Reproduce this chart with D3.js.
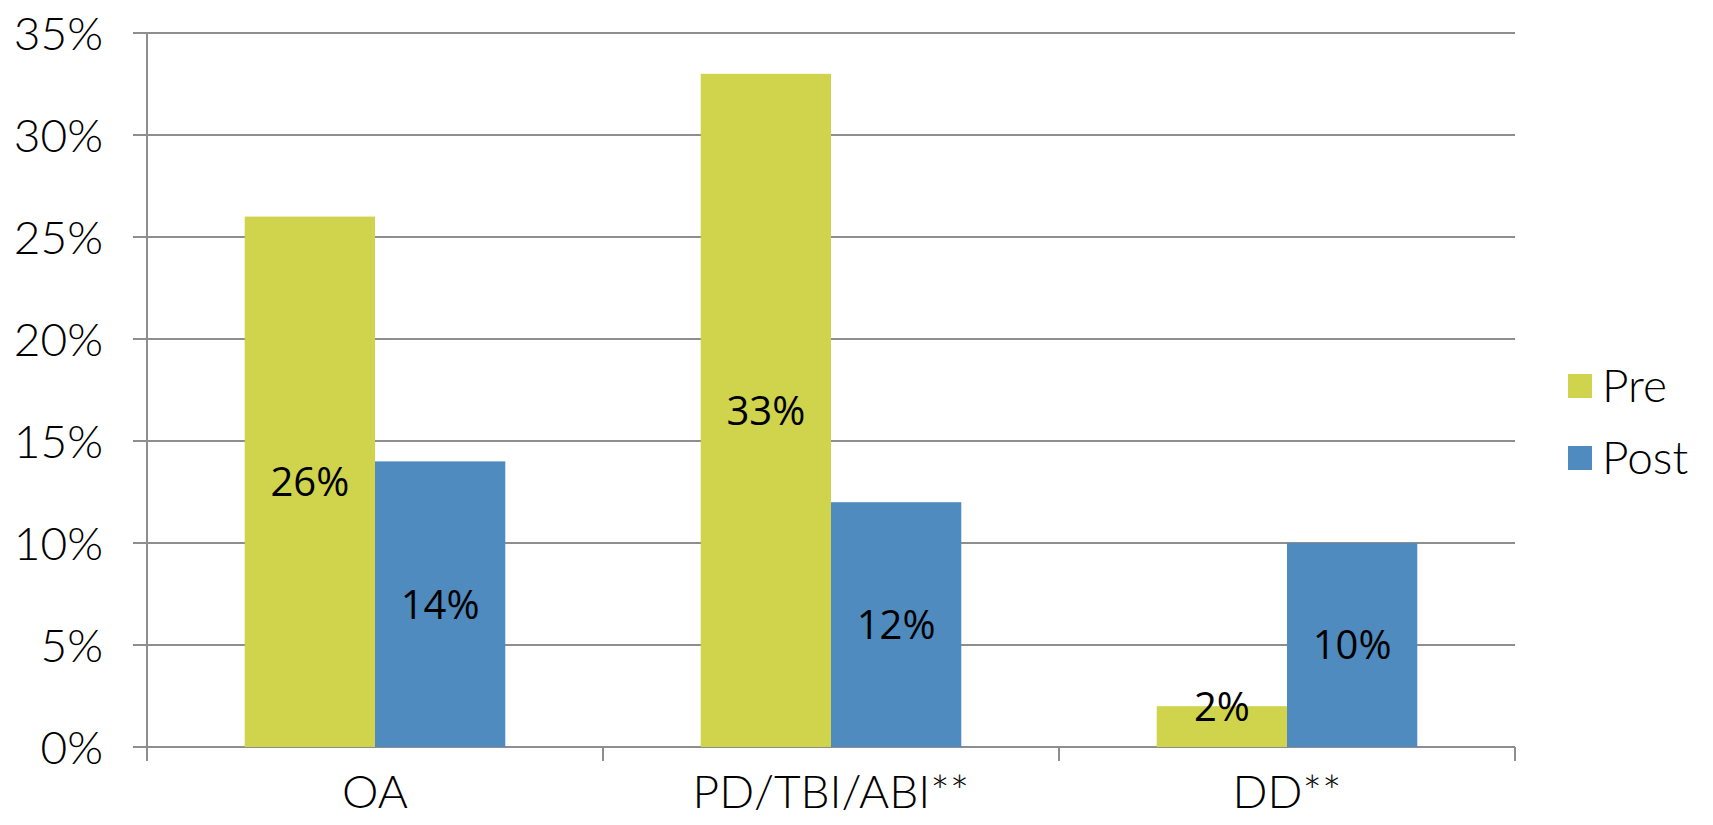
<!DOCTYPE html>
<html>
<head>
<meta charset="utf-8">
<script src="https://cdn.jsdelivr.net/npm/d3@7"></script>
<style>
  body { margin: 0; background: #fff; }
  svg { display: block; }
</style>
</head>
<body>
<svg id="chart"></svg>
<script>
// ==============================
// DATA
// ==============================
const categories = ["OA", "PD/TBI/ABI**", "DD**"];
const seriesNames = ["Pre", "Post"];
const preValues = [26, 33, 2];
const postValues = [14, 12, 10];
const yTicks = [0, 5, 10, 15, 20, 25, 30, 35];

const colors = { Pre: "#cfd44c", Post: "#4f8bbf" };
const gridColor = "#8e8e8e";
const axisFont = "Lato, 'Open Sans', sans-serif";
const labelFont = "'Liberation Sans Narrow', 'Open Sans', sans-serif";

// ==============================
// LAYOUT
// ==============================
const width = 1713, height = 825;
const margin = { top: 33, right: 198, bottom: 78, left: 147 };

const svg = d3.select("#chart")
    .attr("width", width)
    .attr("height", height);

const x0 = d3.scaleBand()
    .domain(categories)
    .range([margin.left, width - margin.right])
    .paddingInner(0)
    .paddingOuter(0);

const x1 = d3.scaleBand()
    .domain(seriesNames)
    .range([0, x0.bandwidth()])
    .paddingOuter(0.75)
    .paddingInner(0);

const y = d3.scaleLinear()
    .domain([0, 35])
    .range([height - margin.bottom, margin.top]);

// gridlines
svg.append("g")
    .selectAll("line")
    .data(yTicks)
    .join("line")
    .attr("x1", margin.left - 14)
    .attr("x2", width - margin.right)
    .attr("y1", d => y(d))
    .attr("y2", d => y(d))
    .attr("stroke", gridColor)
    .attr("stroke-width", 2);

// y axis line
svg.append("line")
    .attr("x1", margin.left).attr("x2", margin.left)
    .attr("y1", y(35)).attr("y2", y(0))
    .attr("stroke", gridColor)
    .attr("stroke-width", 2);

// y labels
svg.append("g")
    .selectAll("text")
    .data(yTicks)
    .join("text")
    .attr("x", margin.left - 44)
    .attr("y", d => y(d))
    .attr("dy", "0.36em")
    .attr("text-anchor", "end")
    .attr("font-family", axisFont)
    .attr("font-weight", 300)
    .attr("font-size", 46)
    .attr("fill", "#000")
    .text(d => d + "%");

// bars
const rows = categories.map((c, i) => ({ cat: c, Pre: preValues[i], Post: postValues[i] }));

const groups = svg.append("g")
    .selectAll("g")
    .data(rows)
    .join("g")
    .attr("transform", d => `translate(${x0(d.cat)},0)`);

groups.selectAll("rect")
    .data(d => seriesNames.map(s => ({ s, v: d[s] })))
    .join("rect")
    .attr("x", d => x1(d.s))
    .attr("width", x1.bandwidth())
    .attr("y", d => y(d.v))
    .attr("height", d => y(0) - y(d.v))
    .attr("fill", d => colors[d.s]);

groups.selectAll("text")
    .data(d => seriesNames.map(s => ({ s, v: d[s] })))
    .join("text")
    .attr("x", d => x1(d.s) + x1.bandwidth() / 2)
    .attr("y", d => Math.min((y(d.v) + y(0)) / 2, y(0) - 40))
    .attr("dy", "0.36em")
    .attr("text-anchor", "middle")
    .attr("font-family", labelFont)
    .attr("font-size", 40)
    .attr("fill", "#000")
    .text(d => d.v + "%");

// x axis ticks
svg.append("g")
    .selectAll("line")
    .data(d3.range(categories.length + 1))
    .join("line")
    .attr("x1", i => margin.left + i * x0.bandwidth())
    .attr("x2", i => margin.left + i * x0.bandwidth())
    .attr("y1", y(0))
    .attr("y2", y(0) + 14)
    .attr("stroke", gridColor)
    .attr("stroke-width", 2);

// x labels
svg.append("g")
    .selectAll("text")
    .data(categories)
    .join("text")
    .attr("x", d => x0(d) + x0.bandwidth() / 2)
    .attr("y", height - 17)
    .attr("text-anchor", "middle")
    .attr("font-family", axisFont)
    .attr("font-weight", 300)
    .attr("font-size", 46)
    .attr("fill", "#000")
    .text(d => d);

// legend
const legend = svg.append("g")
    .selectAll("g")
    .data(seriesNames)
    .join("g")
    .attr("transform", (d, i) => `translate(1568, ${385 + i * 72})`);

legend.append("rect")
    .attr("x", 0)
    .attr("y", -11)
    .attr("width", 24)
    .attr("height", 24)
    .attr("fill", d => colors[d]);

legend.append("text")
    .attr("x", 34)
    .attr("y", 0)
    .attr("dy", "0.36em")
    .attr("font-family", axisFont)
    .attr("font-weight", 300)
    .attr("font-size", 46)
    .attr("fill", "#000")
    .text(d => d);
</script>
</body>
</html>
